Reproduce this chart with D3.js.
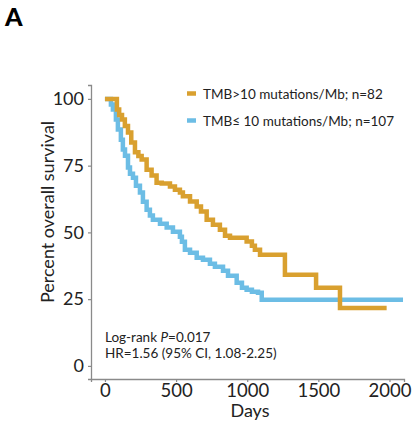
<!DOCTYPE html>
<html>
<head>
<meta charset="utf-8">
<script src="https://cdn.jsdelivr.net/npm/d3@7"></script>
<style>
  html, body { margin: 0; padding: 0; background: #fff; }
  svg { display: block; }
  text { font-family: Lato, "Open Sans", sans-serif; }
</style>
</head>
<body>
<div id="chart"></div>
<script>
// ---- data ----
const highDays = [0, 70, 84, 100, 120, 140, 162, 185, 211, 235, 258, 293, 328, 363, 399, 457, 492, 527, 548, 598, 645, 675, 715, 759, 808, 844, 879, 996, 1033, 1054, 1090, 1265, 1484, 1652, 1980];
const highSurv = [100, 100, 96, 94, 92.3, 89.8, 87.4, 83.7, 80, 78.6, 77.3, 73.5, 71.3, 68.6, 68.3, 67.2, 66, 64.9, 63.5, 61.6, 59.7, 57.8, 54.7, 52.9, 51, 48.7, 48, 46.6, 45, 43.5, 41.6, 34.1, 29.3, 21.7, 21.7];
const lowDays = [0, 21, 42, 56, 77, 91, 112, 126, 141, 162, 176, 197, 218, 246, 267, 293, 316, 337, 387, 434, 478, 527, 541, 562, 598, 645, 689, 738, 773, 830, 865, 926, 963, 996, 1033, 1076, 1102, 2095];
const lowSurv = [100, 100, 97.9, 96, 92.3, 88.5, 84.7, 81, 78.7, 74.3, 72, 70.5, 67.5, 64.9, 61.5, 58.5, 56.3, 54.7, 53.2, 51.8, 50.2, 48.4, 46.5, 43.5, 42.4, 40.5, 39.8, 38.3, 37.1, 35.6, 33.8, 31.1, 29.3, 28.5, 27.8, 27.4, 24.8, 24.8];
const seriesNames = ["TMB>10 mutations/Mb; n=82", "TMB\u2264 10 mutations/Mb; n=107"];
const seriesColors = ["#D9A02F", "#6CBDE5"];
const xTicks = [0, 500, 1000, 1500, 2000];
const yTicks = [0, 25, 50, 75, 100];

// ---- layout ----
const W = 413, H = 427;
const svg = d3.select("#chart").append("svg").attr("width", W).attr("height", H);

const x = d3.scaleLinear().domain([-98, 2102]).range([91, 404]);
const y = d3.scaleLinear().domain([-4.9, 105.2]).range([379, 85]);

const axisColor = "#8a8a8a";
const textColor = "#222";

// panel letter
svg.append("text").attr("x", 5).attr("y", 26)
  .attr("font-size", 25).attr("font-weight", 900)
  .attr("font-family", "'DejaVu Sans', sans-serif")
  .attr("fill", "#000").text("A");

// y axis
const yAxis = svg.append("g").attr("transform", `translate(91,0)`)
  .call(d3.axisLeft(y).tickValues(yTicks).tickFormat(d3.format("d")).tickSize(3).tickPadding(4));
yAxis.select(".domain").attr("stroke", axisColor).attr("stroke-width", 1.3);
yAxis.selectAll(".tick line").attr("stroke", axisColor).attr("stroke-width", 1.2);
yAxis.selectAll(".tick text").attr("font-size", 18).attr("fill", textColor)
  .attr("font-family", "Lato, sans-serif");

// x axis
const xAxis = svg.append("g").attr("transform", `translate(0,379)`)
  .call(d3.axisBottom(x).tickValues(xTicks).tickFormat(d3.format("d")).tickSize(3).tickPadding(2));
xAxis.select(".domain").attr("stroke", axisColor).attr("stroke-width", 1.3);
xAxis.selectAll(".tick line").attr("stroke", axisColor).attr("stroke-width", 1.2);
xAxis.selectAll(".tick text").attr("font-size", 18.5).attr("fill", textColor)
  .attr("font-family", "Lato, sans-serif");

// axis titles
svg.append("text").attr("x", 250).attr("y", 417).attr("text-anchor", "middle")
  .attr("font-size", 18).attr("fill", textColor).text("Days");
svg.append("text").attr("transform", "translate(54,212) rotate(-90)")
  .attr("text-anchor", "middle").attr("font-size", 18).attr("fill", textColor)
  .text("Percent overall survival");

// curves
const line = d3.line().curve(d3.curveStepAfter).x(d => x(d[0])).y(d => y(d[1]));
const series = [
  highDays.map((d, i) => [d, highSurv[i]]),
  lowDays.map((d, i) => [d, lowSurv[i]])
];
[1, 0].forEach(i => {
  svg.append("path").datum(series[i])
    .attr("d", line).attr("fill", "none")
    .attr("stroke", seriesColors[i]).attr("stroke-width", 4.5)
    .attr("stroke-linejoin", "miter");
});

// legend
const legY = [93.5, 120.5];
seriesNames.forEach((name, i) => {
  svg.append("line").attr("x1", 187).attr("x2", 196)
    .attr("y1", legY[i]).attr("y2", legY[i])
    .attr("stroke", seriesColors[i]).attr("stroke-width", 4.5);
  svg.append("text").attr("x", 203).attr("y", legY[i] + 5)
    .attr("font-size", 13.5).attr("fill", textColor).text(name);
});

// annotation
const ann = svg.append("text").attr("x", 105).attr("y", 342)
  .attr("font-size", 13.5).attr("fill", textColor);
ann.append("tspan").text("Log-rank ");
ann.append("tspan").attr("font-style", "italic").text("P");
ann.append("tspan").text("=0.017");
svg.append("text").attr("x", 105).attr("y", 358)
  .attr("font-size", 13.5).attr("fill", textColor)
  .text("HR=1.56 (95% CI, 1.08-2.25)");
</script>
</body>
</html>
